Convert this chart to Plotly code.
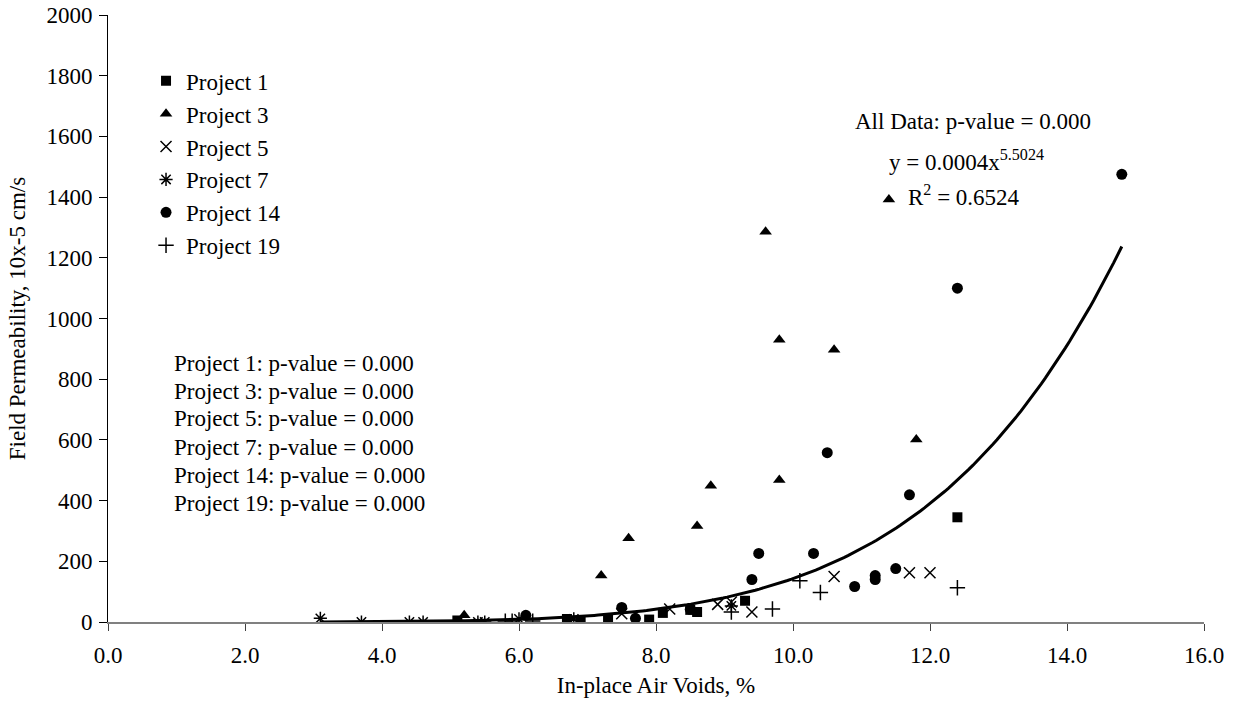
import numpy as np
import plotly.graph_objects as go

# ---- data ----
p1_x = [5.1, 6.7, 6.9, 7.3, 7.9, 8.1, 8.5, 8.6, 9.3, 12.4]
p1_y = [5, 10, 3, 10, 8, 30, 40, 33, 70, 345]

p3_x = [5.2, 7.2, 7.6, 8.6, 8.8, 9.6, 9.8, 9.8, 10.6, 11.4, 11.8]
p3_y = [22, 153, 276, 316, 449, 1286, 930, 468, 897, 1392, 601]

p5_x = [7.5, 8.2, 8.9, 9.1, 9.4, 10.6, 11.7, 12.0]
p5_y = [27, 43, 58, 66, 33, 150, 162, 162]

p7_x = [3.1, 3.7, 4.4, 4.6, 5.4, 5.5, 6.0, 6.8, 9.1]
p7_y = [12, 0, 0, 0, 0, 0, 10, 10, 53]

p14_x = [6.1, 7.5, 7.7, 8.5, 9.4, 9.5, 10.3, 10.5, 10.9, 11.2, 11.2, 11.5, 11.7, 12.4, 14.8]
p14_y = [22, 48, 12, 42, 140, 226, 226, 558, 117, 153, 140, 176, 419, 1100, 1475]

p19_x = [5.8, 5.9, 6.2, 9.1, 9.7, 10.1, 10.4, 12.4]
p19_y = [3, 3, 3, 33, 43, 136, 97, 113]

# power trendline y = a * x^b (shown on chart as 0.0004x^5.5024)
TREND_A = 0.00045
TREND_B = 5.5024
TREND_X_MIN, TREND_X_MAX = 3.1, 14.8

p_value_lines = ["Project 1: p-value = 0.000", "Project 3: p-value = 0.000",
                 "Project 5: p-value = 0.000", "Project 7: p-value = 0.000",
                 "Project 14: p-value = 0.000", "Project 19: p-value = 0.000"]

FONT = "Liberation Serif, Times New Roman, serif"
FS = 23

fig = go.Figure()

series = [
    ("Project 1", p1_x, p1_y, dict(symbol="square", size=10, color="black")),
    ("Project 3", p3_x, p3_y, dict(symbol="triangle-up", size=11, color="black")),
    ("Project 5", p5_x, p5_y, dict(symbol="x-thin-open", size=11, color="black",
                                   line=dict(width=1.5, color="black"))),
    ("Project 7", p7_x, p7_y, dict(symbol="asterisk-open", size=11, color="black",
                                   line=dict(width=1.5, color="black"))),
    ("Project 14", p14_x, p14_y, dict(symbol="circle", size=11, color="black")),
    ("Project 19", p19_x, p19_y, dict(symbol="cross-thin-open", size=11, color="black",
                                      line=dict(width=1.5, color="black"))),
]

tx = np.linspace(TREND_X_MIN, TREND_X_MAX, 200)
ty = TREND_A * tx ** TREND_B
fig.add_trace(go.Scatter(x=tx, y=ty, mode="lines", line=dict(color="black", width=3),
                         showlegend=False, hoverinfo="skip"))

for i, (name, xs, ys, mk) in enumerate(series):
    fig.add_trace(go.Scatter(x=xs, y=ys, mode="markers", name=name, marker=mk))

fig.update_layout(
    width=1238, height=702,
    margin=dict(l=108, r=34, t=15, b=80),
    paper_bgcolor="white", plot_bgcolor="white",
    font=dict(family=FONT, size=FS, color="black"),
    showlegend=True,
    legend=dict(x=0.0347, y=0.927, xanchor="left", yanchor="top",
                font=dict(family=FONT, size=FS, color="black"),
                bgcolor="rgba(0,0,0,0)", tracegroupgap=0, itemwidth=30),
    xaxis=dict(range=[0, 16], tickmode="linear", tick0=0, dtick=2, tickformat=".1f",
               showgrid=False, zeroline=False, showline=True, linecolor="#808080",
               linewidth=1.5, ticks="outside", ticklen=7, tickcolor="#404040",
               ticklabelstandoff=5, automargin=False,
               title=dict(text="In-place Air Voids, %", standoff=10,
                          font=dict(family=FONT, size=FS)),
               tickfont=dict(family=FONT, size=FS)),
    yaxis=dict(range=[0, 2000], tickmode="linear", tick0=0, dtick=200,
               showgrid=False, zeroline=False, showline=True, linecolor="black",
               linewidth=1, ticks="outside", ticklen=8, tickcolor="black",
               ticklabelstandoff=2, automargin=False,
               title=dict(text="Field Permeability, 10x-5 cm/s", standoff=14,
                          font=dict(family=FONT, size=FS)),
               tickfont=dict(family=FONT, size=FS)),
)

def py(pix):
    return (622 - pix) / 607.0

def px(pix):
    return (pix - 108) / 1096.0

fig.add_annotation(xref="paper", yref="paper", x=px(853), y=py(122), xanchor="left",
                   yanchor="middle", text="All Data: p-value = 0.000", showarrow=False,
                   font=dict(family=FONT, size=FS))
fig.add_annotation(xref="paper", yref="paper", x=px(887), y=py(160), xanchor="left",
                   yanchor="middle", text="y = 0.0004x<sup>5.5024</sup>", showarrow=False,
                   font=dict(family=FONT, size=FS))
fig.add_annotation(xref="paper", yref="paper", x=px(906), y=py(195), xanchor="left",
                   yanchor="middle", text="R<sup>2</sup> = 0.6524", showarrow=False,
                   font=dict(family=FONT, size=FS))
for i, line in enumerate(p_value_lines):
    fig.add_annotation(xref="paper", yref="paper", x=px(172), y=py(363 + 28 * i),
                       xanchor="left", yanchor="middle", text=line, showarrow=False,
                       font=dict(family=FONT, size=FS))

fig.write_html("out.html")
